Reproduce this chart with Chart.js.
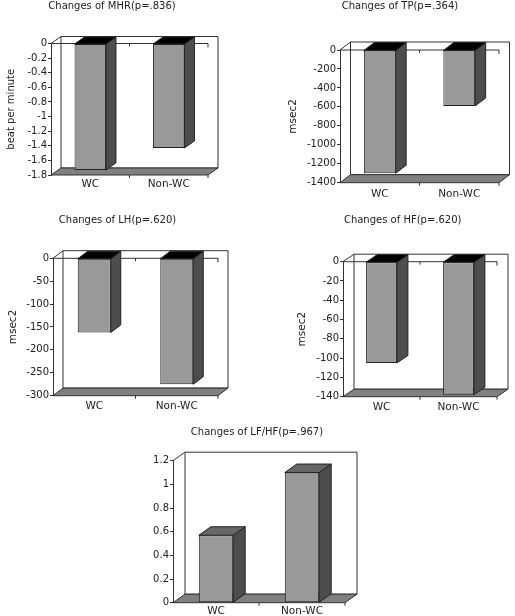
<!DOCTYPE html>
<html><head><meta charset="utf-8">
<script src="https://cdn.jsdelivr.net/npm/chart.js@4/dist/chart.umd.min.js"></script>
<style>
html,body{margin:0;padding:0;background:#fff;width:515px;height:616px;overflow:hidden;position:relative}
canvas{position:absolute}
</style></head><body>
<canvas id="c1" width="258" height="200" style="left:0px;top:0px"></canvas>
<canvas id="c2" width="257" height="200" style="left:258px;top:0px"></canvas>
<canvas id="c3" width="258" height="215" style="left:0px;top:200px"></canvas>
<canvas id="c4" width="257" height="215" style="left:258px;top:200px"></canvas>
<canvas id="c5" width="260" height="201" style="left:130px;top:415px"></canvas>
<script>
// ---- data ----
const categories = ['WC', 'Non-WC'];
const mhrValues  = [-1.73, -1.43];
const tpValues   = [-1300, -590];
const lhValues   = [-162, -275];
const hfValues   = [-105, -138];
const lfhfValues = [0.57, 1.1];

const chartTitles = ['Changes of MHR(p=.836)', 'Changes of TP(p=.364)', 'Changes of LH(p=.620)', 'Changes of HF(p=.620)', 'Changes of LF/HF(p=.967)'];
const yTitles = ['beat per minute', 'msec2', 'msec2', 'msec2', ''];
const yMins  = [-1.8, -1400, -300, -140, 0];
const yMaxs  = [0, 0, 0, 0, 1.2];
const ySteps = [0.2, 200, 50, 20, 0.2];

const FONT = 'DejaVu Sans';

const frame3d = {
  id: 'frame3d',
  beforeDatasetsDraw(chart, args, o) {
    const ctx = chart.ctx, a = chart.chartArea, dx = o.dx, dy = o.dy;
    const y0 = chart.scales.y.getPixelForValue(0);
    const mid = (a.left + a.right) / 2;
    ctx.save();
    ctx.lineWidth = 1;
    ctx.strokeStyle = '#333';
    // back wall
    ctx.fillStyle = '#fff';
    ctx.beginPath();
    ctx.rect(a.left + dx, a.top + dy, a.right - a.left, a.bottom - a.top);
    ctx.fill(); ctx.stroke();
    // floor
    ctx.fillStyle = '#808080';
    ctx.beginPath();
    ctx.moveTo(a.left, a.bottom);
    ctx.lineTo(a.right, a.bottom);
    ctx.lineTo(a.right + dx, a.bottom + dy);
    ctx.lineTo(a.left + dx, a.bottom + dy);
    ctx.closePath();
    ctx.fill(); ctx.stroke();
    // side wall top edge
    ctx.beginPath();
    ctx.moveTo(a.left, a.top);
    ctx.lineTo(a.left + dx, a.top + dy);
    ctx.stroke();
    // ticks on floor front
    ctx.beginPath();
    ctx.moveTo(mid, a.bottom); ctx.lineTo(mid, a.bottom + 3);
    ctx.moveTo(a.right, a.bottom); ctx.lineTo(a.right, a.bottom + 3);
    ctx.stroke();
    // zero line
    if (y0 < a.bottom - 1) {
      ctx.beginPath();
      ctx.moveTo(a.left, y0); ctx.lineTo(a.right, y0);
      ctx.moveTo(mid, y0); ctx.lineTo(mid, y0 + 3);
      ctx.moveTo(a.right, y0); ctx.lineTo(a.right, y0 + 4);
      ctx.stroke();
    }
    ctx.restore();
  },
  afterDatasetsDraw(chart, args, o) {
    const ctx = chart.ctx, dx = o.dx, dy = o.dy;
    const meta = chart.getDatasetMeta(0);
    const vals = chart.data.datasets[0].data;
    ctx.save();
    ctx.lineWidth = 1;
    ctx.strokeStyle = '#222';
    meta.data.forEach((bar, i) => {
      const p = bar.getProps(['x', 'y', 'base', 'width'], true);
      const l = p.x - p.width / 2, r = p.x + p.width / 2;
      const top = Math.min(p.y, p.base), bot = Math.max(p.y, p.base);
      ctx.fillStyle = '#4d4d4d';
      ctx.beginPath();
      ctx.moveTo(r, top); ctx.lineTo(r + dx, top + dy); ctx.lineTo(r + dx, bot + dy); ctx.lineTo(r, bot);
      ctx.closePath(); ctx.fill(); ctx.stroke();
      ctx.fillStyle = vals[i] < 0 ? '#000' : '#666';
      ctx.beginPath();
      ctx.moveTo(l, top); ctx.lineTo(l + dx, top + dy); ctx.lineTo(r + dx, top + dy); ctx.lineTo(r, top);
      ctx.closePath(); ctx.fill(); ctx.stroke();
    });
    ctx.restore();
  },
  afterDraw(chart, args, o) {
    const ctx = chart.ctx;
    ctx.save();
    ctx.font = '10px "' + FONT + '"';
    ctx.fillStyle = '#222';
    ctx.textAlign = 'center';
    ctx.textBaseline = 'middle';
    ctx.fillText(o.title, o.tx, o.ty);
    ctx.restore();
  }
};

function makeChart(id, idx, values, g) {
  const dec = (String(ySteps[idx]).split('.')[1] || '').length;
  return new Chart(document.getElementById(id), {
    type: 'bar',
    data: {
      labels: categories,
      datasets: [{
        data: values,
        backgroundColor: '#999999',
        borderColor: '#222',
        borderWidth: 1,
        borderSkipped: false,
        barPercentage: 0.4,
        categoryPercentage: 1
      }]
    },
    options: {
      responsive: false,
      animation: false,
      devicePixelRatio: 1,
      events: [],
      layout: { padding: { left: 0, right: g.pr, top: g.pt, bottom: g.pb } },
      plugins: {
        legend: { display: false },
        tooltip: { enabled: false },
        title: { display: false },
        frame3d: { dx: g.dx, dy: g.dy, title: chartTitles[idx], tx: g.tx, ty: g.ty }
      },
      scales: {
        x: {
          grid: { display: false, drawTicks: false },
          border: { display: false },
          ticks: { padding: g.xp, font: { family: FONT, size: 10.5 }, color: '#222' },
          afterFit: s => { s.height = g.xh; }
        },
        y: {
          min: yMins[idx], max: yMaxs[idx],
          ticks: {
            stepSize: ySteps[idx], padding: 1, autoSkip: false,
            font: { family: FONT, size: 10 }, color: '#222',
            callback: v => String(Number(Number(v).toFixed(dec)))
          },
          grid: { drawOnChartArea: false, tickLength: 3, color: '#333' },
          border: { display: true, color: '#333' },
          title: {
            display: yTitles[idx] !== '', text: yTitles[idx],
            font: { family: FONT, size: g.yts }, color: '#222',
            padding: { top: g.ytp, bottom: 0 }
          },
          afterFit: s => { s.width = g.yw; }
        }
      }
    },
    plugins: [frame3d]
  });
}

makeChart('c1', 0, mhrValues,  { yw: 51, pr: 50, pt: 43.5, pb: 9,   xh: 16, xp: 3, dx: 10,   dy: -7,   tx: 112,   ty: 6,  ytp: 5.5,  yts: 10 });
makeChart('c2', 1, tpValues,   { yw: 82, pr: 16, pt: 50,   pb: 3.3, xh: 14, xp: 5, dx: 10.5, dy: -8,   tx: 142,   ty: 6,  ytp: 28.5, yts: 10.5 });
makeChart('c3', 2, lhValues,   { yw: 53, pr: 40, pt: 58.3, pb: 5.3, xh: 14, xp: 4, dx: 10,   dy: -7.6, tx: 117.5, ty: 20, ytp: 6.5,  yts: 10.5 });
makeChart('c4', 3, hfValues,   { yw: 85, pr: 18, pt: 61.7, pb: 4.3, xh: 14, xp: 4, dx: 11,   dy: -7.5, tx: 144.7, ty: 20, ytp: 37.5, yts: 10.5 });
makeChart('c5', 4, lfhfValues, { yw: 43, pr: 45, pt: 45.7, pb: 1.3, xh: 12, xp: 2, dx: 12,   dy: -8.5, tx: 127,   ty: 17, ytp: 0,    yts: 11 });
</script>
</body></html>
